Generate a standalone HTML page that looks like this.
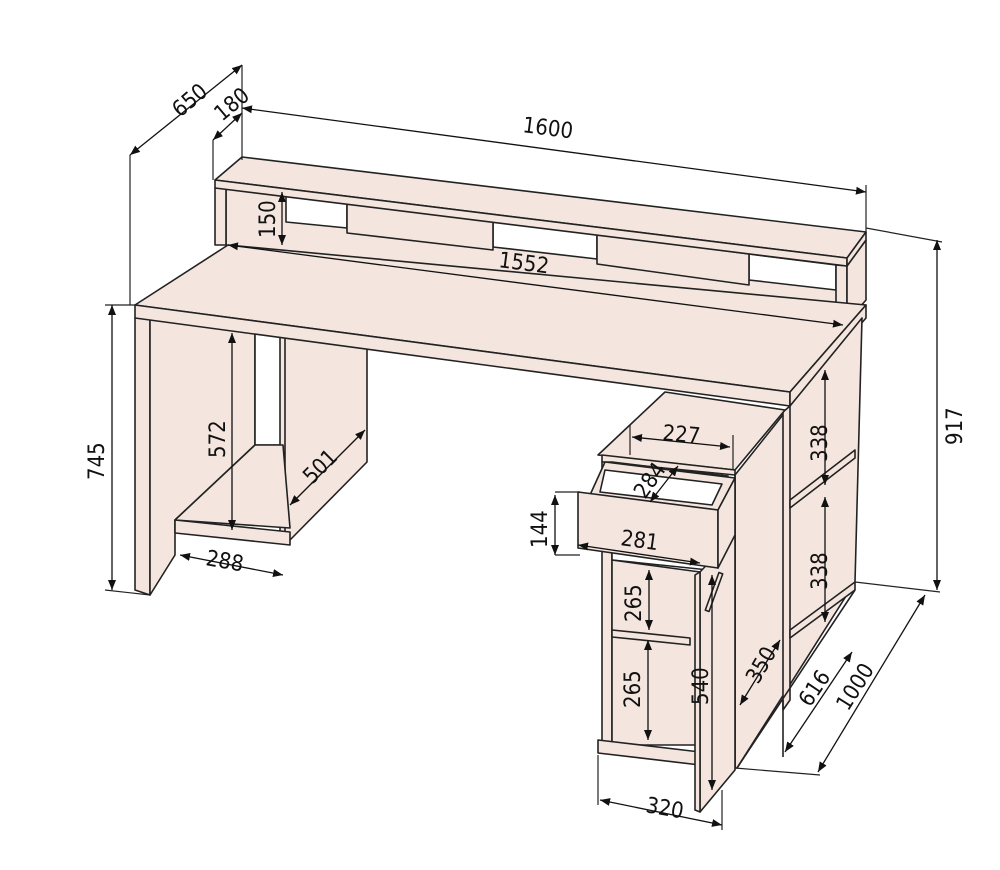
<!DOCTYPE html>
<html><head><meta charset="utf-8"><style>
html,body{margin:0;padding:0;background:#fff}
svg{display:block}
text{font-family:"DejaVu Sans Condensed","Liberation Sans Narrow","Liberation Sans",sans-serif;font-size:22px;fill:#111}
</style></head><body>
<svg width="1000" height="870" viewBox="0 0 1000 870" xmlns="http://www.w3.org/2000/svg">
<defs>
<marker id="a" viewBox="0 0 10 10" refX="10" refY="5" markerWidth="10" markerHeight="10" orient="auto-start-reverse" markerUnits="userSpaceOnUse"><path d="M0,1 L10,5 L0,9 z" fill="#111"/></marker>
</defs>
<g fill="#f4e6df" stroke="#222" stroke-width="1.6" stroke-linejoin="round">
<polygon points="226,188 843,266 843,320 226,245"/>
<polygon points="286,196 347,203 347,228 286,222" fill="#fff"/>
<polygon points="493,221 597,234 597,259 493,247" fill="#fff"/>
<polygon points="749,254 836,265 836,290 749,280" fill="#fff"/>
<polygon points="347,203 493,221 493,250 347,233"/>
<polygon points="597,234 749,254 749,285 597,264"/>
<polygon points="215,188 226,188 226,245 215,245"/>
<polygon points="836,265 847,266 847,322 836,320"/>
<polygon points="847,266 866,240 866,300 847,322"/>
<polygon points="215,180 242,157 866,232 847,258"/>
<polygon points="215,180 847,258 847,266 215,188"/>
<polygon points="847,258 866,232 866,240 847,266"/>
<polygon points="135,318 150,318 150,595 135,590"/>
<polygon points="150,318 255,332 255,445 175,520 175,555 150,595"/>
<polygon points="255,332 283,336 283,445 255,445" fill="#fff"/>
<polygon points="283,336 367,347 367,462 290,540 283,540"/>
<polygon points="280,336 285,336 285,540 280,540"/>
<polygon points="175,520 255,445 283,445 290,528"/>
<polygon points="175,520 290,532 290,545 175,533"/>
<polygon points="135,305 228,245 866,305 790,392"/>
<polygon points="135,305 790,392 790,406 135,318"/>
<polygon points="790,392 866,305 866,318 790,406"/>
<!-- right back unit + side panel -->
<polygon points="735,475 790,406 862,318 855,582 737,768 735,768"/>
<polygon points="783,412 790,406 790,700 783,710"/>
<line x1="783" y1="700" x2="783" y2="757"/>
<polygon points="790,500 855,450 855,458 790,508"/>
<polygon points="790,630 855,582 855,590 790,638"/>
<line x1="855" y1="590" x2="737" y2="768"/>
<line x1="735" y1="475" x2="735" y2="768"/>
<polygon points="598,455 665,392 785,410 735,470"/>
<polygon points="602,455 735,470 735,475 602,462"/>
<polygon points="602,462 612,462 612,745 602,745"/>
<polygon points="612,462 728,476 728,572 612,560" fill="#fff"/>
<polygon points="612,560 700,572 700,745 612,745"/>
<polygon points="612,630 690,638 690,645 612,637"/>
<polygon points="598,740 700,752 700,765 598,753"/>
<polygon points="700,572 735,535 735,770 700,812 700,800"/>
<polygon points="695,575 700,572 700,812 695,810"/>
<polygon points="590,495 605,462 735,478 718,510"/>
<polygon points="605,470 722,484 712,505 600,492" fill="#fff"/>
<polygon points="578,492 718,510 718,568 578,548"/>
<polygon points="718,510 735,478 735,535 718,568"/>
<rect x="712" y="572" width="4" height="40" transform="rotate(20 714 592)"/>
</g>
<g stroke="#222" stroke-width="1.2" fill="none">
<line x1="130" y1="155" x2="130" y2="305"/>
<line x1="242" y1="65" x2="242" y2="160"/>
<line x1="213" y1="140" x2="213" y2="180"/>
<line x1="866" y1="185" x2="866" y2="232"/>
<line x1="866" y1="228" x2="942" y2="242"/>
<line x1="855" y1="582" x2="940" y2="592"/>
<line x1="105" y1="305" x2="135" y2="305"/>
<line x1="105" y1="590" x2="150" y2="595"/>
<line x1="555" y1="492" x2="580" y2="492"/>
<line x1="555" y1="555" x2="580" y2="555"/>
<line x1="598" y1="755" x2="598" y2="805"/>
<line x1="722" y1="790" x2="722" y2="830"/>
<line x1="630" y1="425" x2="630" y2="455"/>
<line x1="733" y1="435" x2="733" y2="470"/>
<line x1="735" y1="768" x2="820" y2="775"/>
</g>
<g stroke="#111" stroke-width="1.3" fill="none" marker-start="url(#a)" marker-end="url(#a)">
<line x1="130" y1="155" x2="242" y2="65"/>
<line x1="213" y1="140" x2="242" y2="113"/>
<line x1="242" y1="108" x2="866" y2="192"/>
<line x1="282" y1="192" x2="282" y2="245"/>
<line x1="228" y1="245" x2="843" y2="325"/>
<line x1="937" y1="240" x2="937" y2="590"/>
<line x1="112" y1="305" x2="112" y2="590"/>
<line x1="232" y1="333" x2="232" y2="530"/>
<line x1="290" y1="505" x2="365" y2="430"/>
<line x1="180" y1="555" x2="283" y2="575"/>
<line x1="632" y1="437" x2="730" y2="447"/>
<line x1="650" y1="502" x2="678" y2="466"/>
<line x1="555" y1="495" x2="555" y2="555"/>
<line x1="578" y1="545" x2="700" y2="563"/>
<line x1="649" y1="570" x2="649" y2="630"/>
<line x1="648" y1="640" x2="648" y2="740"/>
<line x1="712" y1="575" x2="712" y2="790"/>
<line x1="740" y1="705" x2="780" y2="640"/>
<line x1="825" y1="370" x2="825" y2="485"/>
<line x1="825" y1="497" x2="825" y2="622"/>
<line x1="785" y1="752" x2="852" y2="652"/>
<line x1="818" y1="772" x2="925" y2="595"/>
<line x1="600" y1="800" x2="722" y2="825"/>
</g>
<g>
<text transform="translate(180,118) rotate(-40)">650</text>
<text transform="translate(222,122) rotate(-40)">180</text>
<text transform="translate(522,132) rotate(7.4)">1600</text>
<text transform="translate(275,238) rotate(-90)">150</text>
<text transform="translate(498,267) rotate(7.4)">1552</text>
<text transform="translate(962,445) rotate(-90)">917</text>
<text transform="translate(104,480) rotate(-90)">745</text>
<text transform="translate(225,458) rotate(-90)">572</text>
<text transform="translate(312,485) rotate(-45)">501</text>
<text transform="translate(205,565) rotate(10)">288</text>
<text transform="translate(662,440) rotate(5)">227</text>
<text transform="translate(645,500) rotate(-55)">284</text>
<text transform="translate(547,548) rotate(-90)">144</text>
<text transform="translate(620,545) rotate(8)">281</text>
<text transform="translate(641,622) rotate(-90)">265</text>
<text transform="translate(640,708) rotate(-90)">265</text>
<text transform="translate(708,705) rotate(-90)">540</text>
<text transform="translate(758,685) rotate(-60)">350</text>
<text transform="translate(827,462) rotate(-90)">338</text>
<text transform="translate(827,590) rotate(-90)">338</text>
<text transform="translate(810,708) rotate(-56)">616</text>
<text transform="translate(848,712) rotate(-58)">1000</text>
<text transform="translate(645,812) rotate(10)">320</text>
</g>
</svg>
</body></html>
